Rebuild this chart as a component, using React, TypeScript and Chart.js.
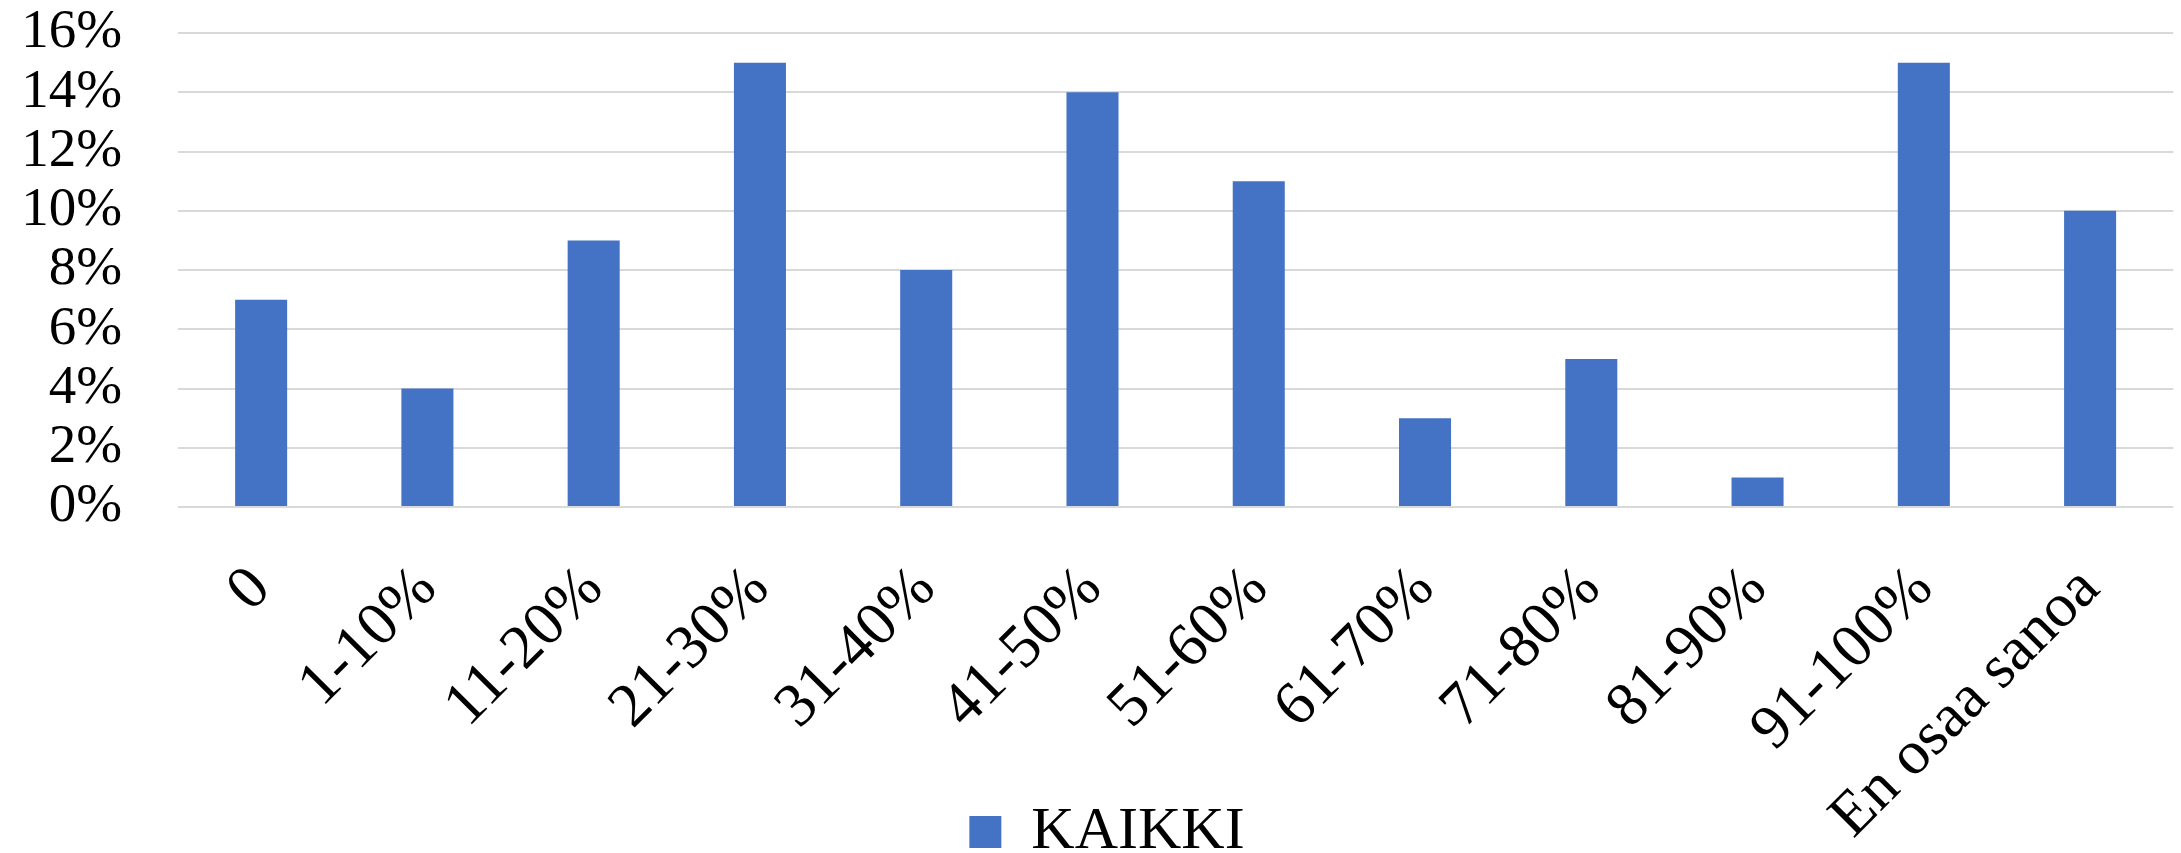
import React, { useEffect, useRef } from "react";
import { Chart, registerables } from "chart.js";

Chart.register(...registerables);

const categories = ["0", "1-10%", "11-20%", "21-30%", "31-40%", "41-50%", "51-60%", "61-70%", "71-80%", "81-90%", "91-100%", "En osaa sanoa"];
const seriesName = "KAIKKI";
const values = [7, 4, 9, 15, 8, 14, 11, 3, 5, 1, 15, 10];
const yTicks = [0, 2, 4, 6, 8, 10, 12, 14, 16];

const FONT = "'Liberation Serif', 'Times New Roman', serif";

const layoutTweak = {
  id: "layoutTweak",
  afterLayout(chart: any) {
    if (chart.legend) {
      chart.legend.left += 20;
      chart.legend.right += 20;
    }
    if (chart.scales && chart.scales.x) {
      // let the rotated category labels run past the axis box (no clipping)
      chart.scales.x.bottom = chart.height + 40;
    }
  },
};

export default function App() {
  const ref = useRef<HTMLCanvasElement | null>(null);

  useEffect(() => {
    if (!ref.current) return;
    const chart = new Chart(ref.current, {
      type: "bar",
      data: {
        labels: categories,
        datasets: [
          {
            label: seriesName,
            data: values,
            backgroundColor: "#4472C4",
            borderWidth: 0,
            barPercentage: 0.313,
            categoryPercentage: 1,
          },
        ],
      },
      plugins: [layoutTweak],
      options: {
        animation: false,
        responsive: true,
        maintainAspectRatio: false,
        layout: { padding: { left: 0, right: 7, top: 0, bottom: -19 } },
        plugins: {
          legend: {
            position: "bottom",
            labels: {
              color: "#000",
              font: { family: FONT, size: 60 },
              boxWidth: 32,
              boxHeight: 32,
              padding: 10,
            },
          },
          tooltip: { enabled: false },
        },
        scales: {
          x: {
            grid: { display: false },
            border: { display: false },
            ticks: {
              color: "#000",
              font: { family: FONT, size: 62 },
              minRotation: 45,
              maxRotation: 45,
              autoSkip: false,
              padding: 38,
            },
            afterFit: (scale: any) => {
              scale.height = 285;
            },
          },
          y: {
            min: 0,
            max: 16,
            afterBuildTicks: (scale: any) => {
              scale.ticks = yTicks.map((v) => ({ value: v }));
            },
            grid: {
              color: "#d9d9d9",
              lineWidth: 2,
              drawTicks: true,
              tickLength: 56,
              tickColor: "rgba(0,0,0,0)",
            },
            border: { display: false },
            ticks: {
              color: "#000",
              font: { family: FONT, size: 55 },
              padding: 0,
              autoSkip: false,
              callback: (v: any) => `${v}%`,
            },
            afterFit: (scale: any) => {
              scale.width = 178;
            },
          },
        },
      },
    });
    return () => chart.destroy();
  }, []);

  return (
    <div style={{ position: "fixed", left: 0, top: 0, width: 2181, height: 853, background: "#fff" }}>
      <canvas ref={ref} />
    </div>
  );
}
